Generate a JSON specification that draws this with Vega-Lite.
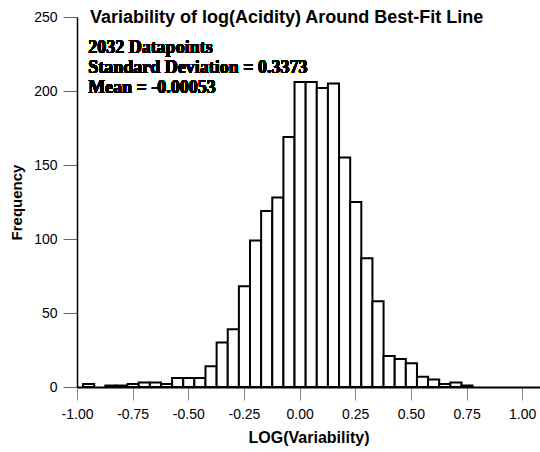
{
  "$schema": "https://vega.github.io/schema/vega-lite/v6.json",
  "autosize": "none",
  "padding": {"left": 77, "top": 17, "right": 0, "bottom": 65},
  "width": 463,
  "height": 370,
  "config": {
    "view": {"stroke": null},
    "font": "Liberation Sans"
  },
  "title": {
    "text": "Variability of log(Acidity) Around Best-Fit Line",
    "anchor": "start",
    "frame": "group",
    "font": "Liberation Sans",
    "fontSize": 18,
    "fontWeight": "bold",
    "color": "black",
    "offset": 0,
    "baseline": "alphabetic",
    "dx": 13,
    "dy": 31
  },
  "data": {
    "values": [
      {"lo": -0.975, "hi": -0.925, "n": 2},
      {"lo": -0.875, "hi": -0.825, "n": 1},
      {"lo": -0.825, "hi": -0.775, "n": 1},
      {"lo": -0.775, "hi": -0.725, "n": 2},
      {"lo": -0.725, "hi": -0.675, "n": 3},
      {"lo": -0.675, "hi": -0.625, "n": 3},
      {"lo": -0.625, "hi": -0.575, "n": 2},
      {"lo": -0.575, "hi": -0.525, "n": 6},
      {"lo": -0.525, "hi": -0.475, "n": 6},
      {"lo": -0.475, "hi": -0.425, "n": 6},
      {"lo": -0.425, "hi": -0.375, "n": 14},
      {"lo": -0.375, "hi": -0.325, "n": 30},
      {"lo": -0.325, "hi": -0.275, "n": 39},
      {"lo": -0.275, "hi": -0.225, "n": 68},
      {"lo": -0.225, "hi": -0.175, "n": 99},
      {"lo": -0.175, "hi": -0.125, "n": 119},
      {"lo": -0.125, "hi": -0.075, "n": 128},
      {"lo": -0.075, "hi": -0.025, "n": 169},
      {"lo": -0.025, "hi": 0.025, "n": 206},
      {"lo": 0.025, "hi": 0.075, "n": 206},
      {"lo": 0.075, "hi": 0.125, "n": 202},
      {"lo": 0.125, "hi": 0.175, "n": 205},
      {"lo": 0.175, "hi": 0.225, "n": 155},
      {"lo": 0.225, "hi": 0.275, "n": 125},
      {"lo": 0.275, "hi": 0.325, "n": 87},
      {"lo": 0.325, "hi": 0.375, "n": 58},
      {"lo": 0.375, "hi": 0.425, "n": 21},
      {"lo": 0.425, "hi": 0.475, "n": 19},
      {"lo": 0.475, "hi": 0.525, "n": 16},
      {"lo": 0.525, "hi": 0.575, "n": 7},
      {"lo": 0.575, "hi": 0.625, "n": 5},
      {"lo": 0.625, "hi": 0.675, "n": 2},
      {"lo": 0.675, "hi": 0.725, "n": 3},
      {"lo": 0.725, "hi": 0.775, "n": 1}
    ]
  },
  "layer": [
    {
      "mark": {"type": "bar", "fill": "white", "stroke": "black", "strokeWidth": 2, "binSpacing": 0},
      "encoding": {
        "x": {
          "field": "lo", "type": "quantitative", "bin": "binned",
          "scale": {"domain": [-1, 1.08], "nice": false, "zero": false},
          "axis": {
            "values": [-1, -0.75, -0.5, -0.25, 0, 0.25, 0.5, 0.75, 1],
            "labelExpr": "datum.value < 0 ? '-' + format(-datum.value, '.2f') : format(datum.value, '.2f')",
            "labelFlush": false,
            "title": "LOG(Variability)",
            "titleFont": "Liberation Sans",
            "titleFontSize": 16,
            "titleFontWeight": "bold",
            "titleColor": "black",
            "titlePadding": 8,
            "labelFont": "Liberation Sans",
            "labelFontSize": 14,
            "labelColor": "black",
            "labelPadding": 7,
            "tickSize": 13,
            "tickColor": "#888888",
            "tickWidth": 1,
            "domainColor": "black",
            "domainWidth": 2,
            "grid": false
          }
        },
        "x2": {"field": "hi"},
        "y": {
          "field": "n", "type": "quantitative",
          "scale": {"domain": [0, 250], "nice": false},
          "axis": {
            "values": [0, 50, 100, 150, 200, 250],
            "title": "Frequency",
            "titleFont": "Liberation Sans",
            "titleFontSize": 15,
            "titleFontWeight": "bold",
            "titleColor": "black",
            "titlePadding": 9,
            "labelFont": "Liberation Sans",
            "labelFontSize": 14,
            "labelColor": "black",
            "labelPadding": 6,
            "tickSize": 14,
            "tickColor": "#666666",
            "tickWidth": 1,
            "domainColor": "black",
            "domainWidth": 1.5,
            "grid": false
          }
        }
      }
    },
    {
      "mark": {
        "type": "text",
        "text": ["2032 Datapoints", "Standard Deviation = 0.3373", "Mean = -0.00053"],
        "font": "Liberation Serif",
        "fontSize": 18,
        "fontWeight": "bold",
        "align": "left",
        "baseline": "alphabetic",
        "lineHeight": 20,
        "fill": "black",
        "stroke": null
      },
      "encoding": {
        "x": {"datum": -0.95},
        "y": {"datum": 225.7}
      }
    }
  ]
}
